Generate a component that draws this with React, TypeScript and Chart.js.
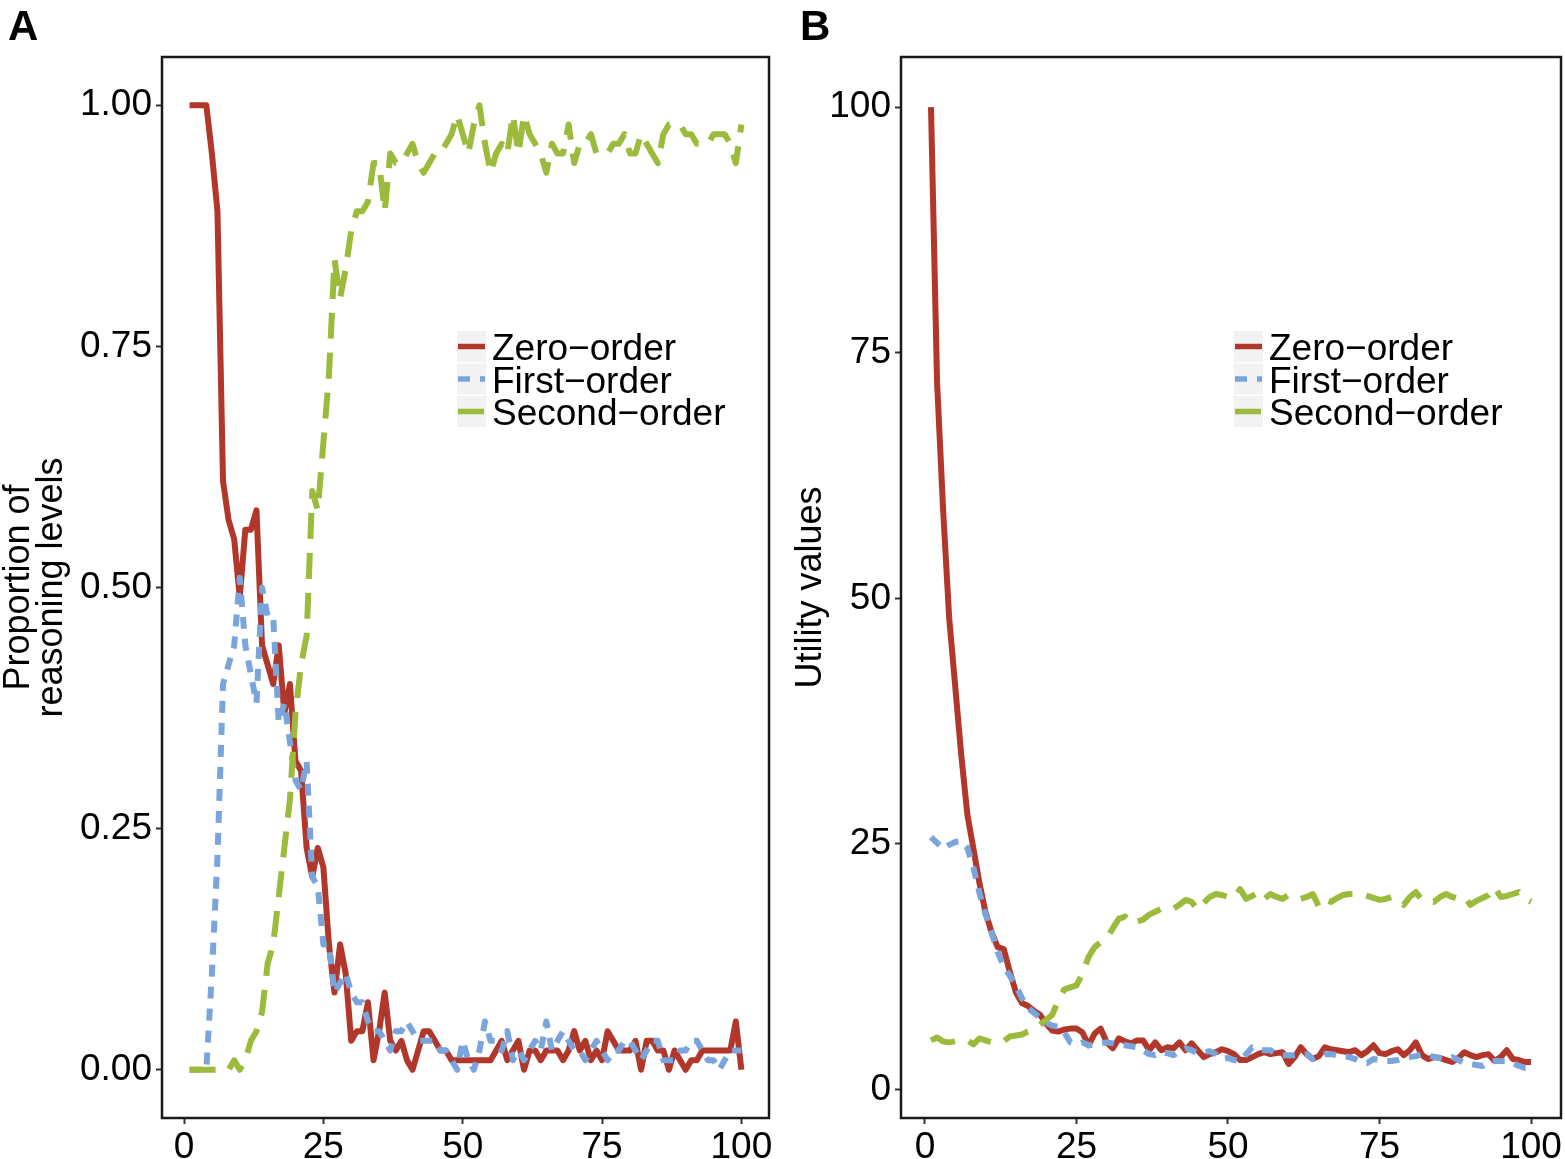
import { useEffect, useRef } from "react"
import { Chart, registerables, type ChartConfiguration, type Plugin } from "chart.js"

Chart.register(...registerables)

// x: trial number
const trials = Array.from({ length: 100 }, (_, i) => i + 1)
const seriesLabels = ["Zero−order", "First−order", "Second−order"]
const xTicks = [0, 25, 50, 75, 100]
const yTicksA = [0, 0.25, 0.5, 0.75, 1]
const yTicksB = [0, 25, 50, 75, 100]

// Panel A: proportion of reasoning levels
const zeroOrderA = [
  1.0, 1.0, 1.0, 1.0, 0.95, 0.89, 0.61, 0.57, 0.55, 0.49,
  0.56, 0.56, 0.58, 0.44, 0.42, 0.4, 0.44, 0.37, 0.4, 0.32,
  0.31, 0.23, 0.2, 0.23, 0.21, 0.13, 0.08, 0.13, 0.1, 0.03,
  0.04, 0.04, 0.07, 0.01, 0.04, 0.08, 0.03, 0.02, 0.03, 0.01,
  0.0, 0.02, 0.04, 0.04, 0.03, 0.02, 0.02, 0.01, 0.01, 0.01,
  0.01, 0.01, 0.01, 0.01, 0.01, 0.02, 0.03, 0.01, 0.02, 0.03,
  0.0, 0.02, 0.02, 0.01, 0.02, 0.02, 0.02, 0.01, 0.02, 0.04,
  0.02, 0.03, 0.01, 0.02, 0.01, 0.04, 0.03, 0.02, 0.02, 0.02,
  0.03, 0.0, 0.03, 0.03, 0.02, 0.02, 0.0, 0.02, 0.01, 0.0,
  0.01, 0.01, 0.02, 0.02, 0.02, 0.02, 0.02, 0.02, 0.05, 0.0,
]
const firstOrderA = [
  0.0, 0.0, 0.0, 0.0, 0.1, 0.22, 0.4, 0.42, 0.44, 0.51,
  0.44, 0.41, 0.38, 0.5, 0.47, 0.47, 0.36, 0.38, 0.34, 0.3,
  0.29, 0.32, 0.2, 0.19, 0.13, 0.13, 0.08, 0.09, 0.1, 0.08,
  0.07, 0.07, 0.05, 0.04, 0.04, 0.03, 0.02, 0.04, 0.04, 0.05,
  0.04, 0.03, 0.03, 0.03, 0.03, 0.02, 0.02, 0.01, 0.0, 0.03,
  0.01, 0.0, 0.02, 0.05, 0.03, 0.03, 0.02, 0.04, 0.01, 0.02,
  0.01, 0.02, 0.03, 0.02, 0.05, 0.02, 0.03, 0.04, 0.03, 0.02,
  0.02, 0.01, 0.02, 0.03, 0.02, 0.01, 0.02, 0.02, 0.03, 0.03,
  0.02, 0.01, 0.02, 0.03, 0.03, 0.01, 0.01, 0.01, 0.02, 0.02,
  0.03, 0.03, 0.02, 0.01, 0.01, 0.0, 0.01, 0.02, 0.02, 0.02,
]
const secondOrderA = [
  0.0, 0.0, 0.0, 0.0, 0.0, 0.0, 0.0, 0.0, 0.01, 0.0,
  0.01, 0.03, 0.04, 0.06, 0.11, 0.13, 0.18, 0.23, 0.28, 0.37,
  0.42, 0.45, 0.6, 0.58, 0.65, 0.72, 0.84, 0.8, 0.83, 0.87,
  0.89, 0.89, 0.9, 0.94, 0.94, 0.89, 0.95, 0.94, 0.94, 0.95,
  0.96, 0.94, 0.93, 0.94, 0.95, 0.95, 0.96, 0.97, 0.99, 0.97,
  0.95, 0.98, 1.0, 0.96, 0.93, 0.95, 0.96, 0.95, 0.99, 0.95,
  0.99, 0.97, 0.96, 0.95, 0.93, 0.96, 0.95, 0.95, 0.98, 0.94,
  0.96, 0.96, 0.97, 0.95, 0.95, 0.95, 0.96, 0.96, 0.97, 0.95,
  0.95, 0.97, 0.96, 0.95, 0.94, 0.97, 0.98, 0.98, 0.98, 0.97,
  0.97, 0.96, 0.96, 0.96, 0.97, 0.97, 0.97, 0.96, 0.94, 0.98,
]

// Panel B: utility values
const zeroOrderB = [
  100, 72, 59, 48, 41, 34, 28, 24.5, 21, 18,
  16, 14.5, 14.3, 12, 9.9, 8.8, 8.5, 8.0, 7.6, 6.7,
  6.0, 5.9, 6.1, 6.2, 6.2, 5.8, 4.5, 5.7, 6.2, 4.8,
  4.2, 5.2, 4.9, 4.7, 5.0, 5.0, 4.0, 4.8, 4.0, 4.3,
  4.2, 4.8, 4.0, 4.7, 4.0, 3.3, 3.6, 3.8, 4.1, 3.9,
  3.6, 3.0, 3.0, 3.3, 3.6, 3.8, 3.6, 3.7, 3.8, 2.6,
  3.3, 4.3, 3.6, 3.1, 3.4, 4.3, 4.1, 4.0, 3.9, 3.8,
  4.0, 3.5, 3.9, 4.5, 3.7, 3.6, 3.9, 4.1, 3.5, 4.0,
  4.8, 3.5, 3.1, 3.3, 3.2, 3.0, 2.8, 3.2, 3.8, 3.5,
  3.3, 3.5, 3.6, 2.9, 3.3, 4.0, 3.1, 3.0, 2.8, 2.8,
]
const firstOrderB = [
  25.7, 25.1, 24.5, 24.9, 25.2, 25.3, 24.6, 22.6, 20.0, 17.8,
  16.0, 14.0, 12.5, 11.6, 10.6, 9.3, 8.3, 7.8, 7.3, 6.8,
  6.5, 6.4, 5.8, 4.8, 4.6, 4.8, 4.5, 4.6, 4.7, 4.8,
  4.7, 4.5, 4.5, 4.4, 4.3, 4.0, 3.6, 3.5, 3.8, 3.7,
  3.5, 3.9, 4.2, 4.0, 3.7, 3.8, 3.9, 3.6, 3.1, 3.2,
  3.0, 2.9, 3.6, 4.3, 4.1, 4.0, 4.0, 3.6, 3.5, 3.5,
  3.5, 3.6, 3.6, 3.1, 3.4, 3.6, 3.6, 3.5, 3.4, 3.3,
  3.1, 2.8, 2.7, 3.1, 3.0, 2.9, 2.9, 3.0, 3.2, 3.3,
  3.4, 3.6, 3.5, 3.3, 3.2, 3.1, 3.3, 3.0, 2.7, 2.6,
  2.5, 2.4, 2.8, 2.9, 2.9, 2.9, 2.7, 2.4, 2.2, 2.3,
]
const secondOrderB = [
  5.0, 5.3, 4.9, 4.8, 4.9, 5.0, 5.0, 4.6, 5.2, 5.0,
  4.8, 4.8, 4.9, 5.4, 5.5, 5.6, 5.9, 6.1, 6.6, 7.1,
  7.6, 9.1, 10.2, 10.4, 10.6, 11.8, 13.5, 14.5, 15.0, 15.4,
  16.4, 17.4, 17.6, 16.9, 17.1, 17.3, 17.8, 18.1, 18.4, 18.3,
  18.4, 18.8, 19.3, 19.1, 18.3, 19.0, 19.6, 19.9, 19.8, 19.6,
  19.5, 20.4, 19.4, 19.7, 20.1, 19.4, 19.9, 19.6, 19.4, 19.8,
  19.6, 19.4, 19.6, 19.9, 18.6, 19.3, 19.1, 19.5, 19.8, 19.9,
  19.9, 19.9, 19.7, 19.5, 19.3, 19.4, 19.6, 19.3, 18.8, 19.6,
  20.1, 19.3, 19.2, 19.1, 19.6, 19.9, 19.6, 19.4, 19.6, 18.8,
  19.2, 19.5, 19.8, 20.6, 19.6, 19.7, 19.9, 20.1, 19.4, 19.1,
]

const FONT = "'Liberation Sans', Arial, Helvetica, sans-serif"
const lineColors = ["#b1372b", "#7aa5dc", "#9cbb3d"]
const lineDashes = [[], [12, 10], [26, 14]]

interface DecorOptions {
  tag: string
  tagX: number
  legendX: number
  legendTop: number
}

// border, panel letter and legend
const panelDecor: Plugin<"line"> = {
  id: "panelDecor",
  afterDatasetsDraw(chart, _args, opts: DecorOptions) {
    const { ctx, chartArea } = chart
    ctx.save()
    ctx.strokeStyle = "#1a1a1a"
    ctx.lineWidth = 2.5
    ctx.strokeRect(chartArea.left, chartArea.top, chartArea.right - chartArea.left, chartArea.bottom - chartArea.top)

    ctx.fillStyle = "#000"
    ctx.font = `bold 42px ${FONT}`
    ctx.textBaseline = "alphabetic"
    ctx.textAlign = "left"
    ctx.fillText(opts.tag, opts.tagX, 40)

    chart.data.datasets.forEach((ds, i) => {
      const top = opts.legendTop + i * 32.5
      ctx.fillStyle = "#f2f2f2"
      ctx.fillRect(opts.legendX, top, 29, 31)
      ctx.beginPath()
      ctx.setLineDash((ds as any).borderDash || [])
      ctx.strokeStyle = ds.borderColor as string
      ctx.lineWidth = 5.5
      ctx.lineCap = "butt"
      ctx.moveTo(opts.legendX + 1, top + 15.5)
      ctx.lineTo(opts.legendX + 28, top + 15.5)
      ctx.stroke()
      ctx.setLineDash([])
      ctx.fillStyle = "#000"
      ctx.font = `37px ${FONT}`
      ctx.textBaseline = "middle"
      ctx.fillText(ds.label as string, opts.legendX + 35, top + 19)
    })
    ctx.restore()
  },
}

interface PanelProps {
  left: number
  width: number
  yAxisWidth: number
  rightPad: number
  series: number[][]
  yTicks: number[]
  yMin: number
  yMax: number
  digits: number
  yTitle: string | string[]
  titlePad: number
  decor: DecorOptions
}

function Panel({ left, width, yAxisWidth, rightPad, series, yTicks, yMin, yMax, digits, yTitle, titlePad, decor }: PanelProps) {
  const canvasRef = useRef<HTMLCanvasElement>(null)
  const chartRef = useRef<Chart | null>(null)

  useEffect(() => {
    if (!canvasRef.current) return
    if (chartRef.current) chartRef.current.destroy()

    const config: ChartConfiguration<"line"> = {
      type: "line",
      data: {
        datasets: series.map((vals, i) => ({
          label: seriesLabels[i],
          data: trials.map((t, j) => ({ x: t, y: vals[j] })),
          borderColor: lineColors[i],
          backgroundColor: lineColors[i],
          borderWidth: 6,
          borderDash: lineDashes[i],
          borderJoinStyle: "round",
          borderCapStyle: "butt",
          pointRadius: 0,
          tension: 0,
          fill: false,
          order: 3 - i,
        })),
      },
      options: {
        responsive: false,
        animation: false,
        devicePixelRatio: 1,
        layout: { padding: { top: 57, right: rightPad, bottom: 0, left: 0 } },
        plugins: {
          legend: { display: false },
          tooltip: { enabled: false },
          panelDecor: decor,
        } as any,
        scales: {
          x: {
            type: "linear",
            min: -3.95,
            max: 104.95,
            afterBuildTicks: (axis) => {
              axis.ticks = xTicks.map((v) => ({ value: v }))
            },
            afterFit: (axis) => {
              axis.height = 41
              axis.paddingLeft = 0
              axis.paddingRight = 0
            },
            grid: { display: true, drawOnChartArea: false, drawTicks: true, tickLength: 6, tickWidth: 2, tickColor: "#333" },
            border: { display: false },
            ticks: {
              padding: 2,
              color: "#000",
              font: { family: FONT, size: 37 },
              maxRotation: 0,
              callback: (v) => String(v),
            },
          },
          y: {
            type: "linear",
            min: yMin,
            max: yMax,
            afterBuildTicks: (axis) => {
              axis.ticks = yTicks.map((v) => ({ value: v }))
            },
            afterFit: (axis) => {
              axis.width = yAxisWidth
              axis.paddingTop = 0
              axis.paddingBottom = 0
            },
            grid: { display: true, drawOnChartArea: false, drawTicks: true, tickLength: 6, tickWidth: 2, tickColor: "#333" },
            border: { display: false },
            ticks: {
              padding: 4,
              color: "#000",
              font: { family: FONT, size: 37 },
              callback: (v) => Number(v).toFixed(digits),
            },
            title: {
              display: true,
              text: yTitle,
              color: "#000",
              font: { family: FONT, size: 36, lineHeight: 0.9 },
              padding: { top: titlePad, bottom: 0 },
            },
          },
        },
      },
      plugins: [panelDecor],
    }

    chartRef.current = new Chart(canvasRef.current, config)

    return () => {
      if (chartRef.current) {
        chartRef.current.destroy()
        chartRef.current = null
      }
    }
  }, [])

  return (
    <canvas
      ref={canvasRef}
      width={width}
      height={1159}
      style={{ position: "absolute", left, top: 0, width, height: 1159 }}
    />
  )
}

export default function App() {
  return (
    <div style={{ position: "absolute", left: 0, top: 0, width: 1565, height: 1159, background: "#fff", overflow: "hidden" }}>
      <Panel
        left={0}
        width={782}
        yAxisWidth={162}
        rightPad={13}
        series={[zeroOrderA, firstOrderA, secondOrderA]}
        yTicks={yTicksA}
        yMin={-0.05}
        yMax={1.05}
        digits={2}
        yTitle={["Proportion of", "reasoning levels"]}
        titlePad={3}
        decor={{ tag: "A", tagX: 8, legendX: 457, legendTop: 331 }}
      />
      <Panel
        left={782}
        width={783}
        yAxisWidth={119}
        rightPad={4}
        series={[zeroOrderB, firstOrderB, secondOrderB]}
        yTicks={yTicksB}
        yMin={-2.9}
        yMax={105.1}
        digits={0}
        yTitle="Utility values"
        titlePad={13}
        decor={{ tag: "B", tagX: 18, legendX: 452, legendTop: 331 }}
      />
    </div>
  )
}
